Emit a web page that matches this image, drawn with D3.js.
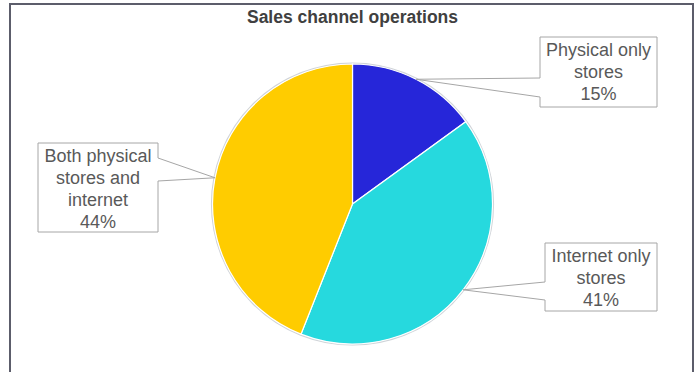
<!DOCTYPE html>
<html>
<head>
<meta charset="utf-8">
<script src="https://cdn.jsdelivr.net/npm/d3@7"></script>
<style>
  html, body { margin: 0; padding: 0; background: #ffffff; }
  svg { display: block; }
</style>
</head>
<body>
<svg id="chart" width="699" height="372"></svg>
<script>
// Share of retailers by sales channel (percent)
const title = "Sales channel operations";
const categories = ["Physical only stores", "Internet only stores", "Both physical stores and internet"];
const values = [15, 41, 44];
const colors = ["#2626d9", "#26d9de", "#ffcc00"];

// Callout box placement for each slice label
const boxes = [
  { x: 540, y: 37, w: 117, h: 70, side: "left", a1: 41, a2: 60 },
  { x: 545, y: 243, w: 112, h: 68, side: "left", a1: 39, a2: 57 },
  { x: 38, y: 143, w: 120, h: 89, side: "right", a1: 15, a2: 38 }
];

const svg = d3.select("#chart");
const W = 699, H = 372;
const cx = 352.5, cy = 204, R = 140;
const font = "'Liberation Sans', Arial, Helvetica, sans-serif";

// outer chart frame
svg.append("rect")
  .attr("x", 10).attr("y", 4)
  .attr("width", 683).attr("height", 400)
  .attr("fill", "#ffffff")
  .attr("stroke", "#5c5d6b").attr("stroke-width", 2);

svg.append("text")
  .attr("x", cx).attr("y", 23)
  .attr("text-anchor", "middle")
  .attr("font-family", font)
  .attr("font-weight", "bold")
  .attr("font-size", 17.5)
  .attr("fill", "#404040")
  .text(title);

const pie = d3.pie().sort(null).value(d => d)(values);
const arc = d3.arc().innerRadius(0).outerRadius(R);
const edge = d3.arc().innerRadius(R).outerRadius(R);

const g = svg.append("g").attr("transform", `translate(${cx},${cy})`);

// soft grey rim around the pie
g.append("circle").attr("r", R + 0.8)
  .attr("fill", "none").attr("stroke", "#cfd3d8").attr("stroke-width", 1.6);

g.selectAll("path.slice")
  .data(pie)
  .join("path")
  .attr("class", "slice")
  .attr("d", arc)
  .attr("fill", (d, i) => colors[i])
  .attr("stroke", "#ffffff")
  .attr("stroke-width", 1.2);

// callout boxes with wedge pointing at each slice
pie.forEach((d, i) => {
  const b = boxes[i];
  const [tx, ty] = edge.centroid(d);
  const tip = [cx + tx, cy + ty];
  let pts;
  if (b.side === "left") {
    pts = [[b.x, b.y], [b.x + b.w, b.y], [b.x + b.w, b.y + b.h], [b.x, b.y + b.h],
           [b.x, b.y + b.a2], tip, [b.x, b.y + b.a1]];
  } else {
    pts = [[b.x, b.y], [b.x + b.w, b.y], [b.x + b.w, b.y + b.a1], tip,
           [b.x + b.w, b.y + b.a2], [b.x + b.w, b.y + b.h], [b.x, b.y + b.h]];
  }
  svg.append("path")
    .attr("d", "M" + pts.map(p => p.join(",")).join("L") + "Z")
    .attr("fill", "#ffffff")
    .attr("stroke", "#a6a6a6")
    .attr("stroke-width", 1);

  const t = svg.append("text")
    .attr("font-family", font)
    .attr("font-size", 18)
    .attr("fill", "#595959")
    .attr("text-anchor", "middle");

  // wrap the category name to the box width, then add the percentage
  const words = categories[i].split(" ");
  const lines = [];
  let cur = "";
  const probe = t.append("tspan");
  words.forEach(w => {
    const test = cur ? cur + " " + w : w;
    probe.text(test);
    if (probe.node().getComputedTextLength() > b.w - 6 && cur) {
      lines.push(cur);
      cur = w;
    } else {
      cur = test;
    }
  });
  if (cur) lines.push(cur);
  probe.remove();
  lines.push(values[i] + "%");

  lines.forEach((ln, k) => {
    t.append("tspan")
      .attr("x", b.x + b.w / 2)
      .attr("y", b.y + 19 + k * 22)
      .text(ln);
  });
});
</script>
</body>
</html>
